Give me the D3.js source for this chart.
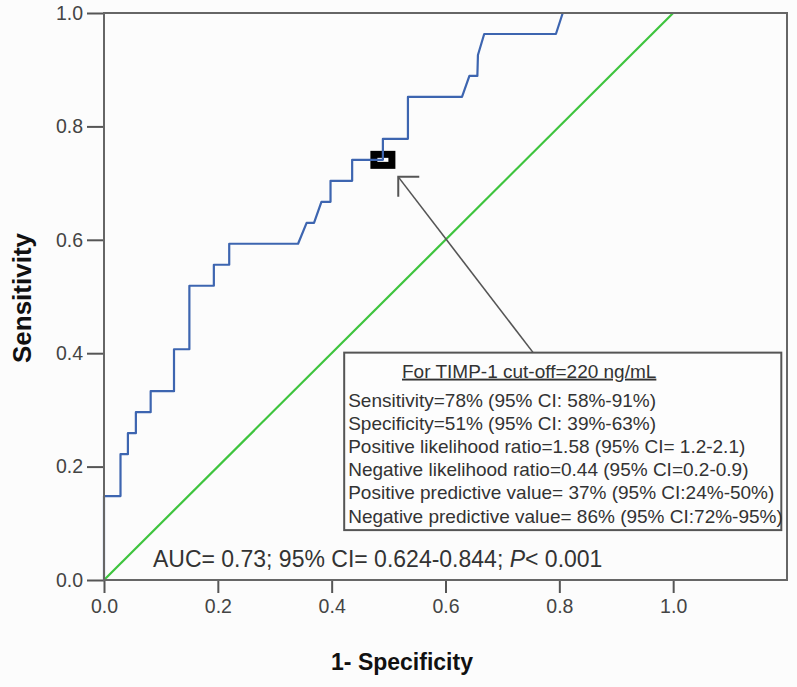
<!DOCTYPE html>
<html><head><meta charset="utf-8">
<script src="https://cdn.jsdelivr.net/npm/d3@7"></script>
<style>body{margin:0;background:#fcfcfc}</style>
</head><body><svg id="c" width="797" height="687"></svg>
<script>
// ROC curve points (1 - specificity, sensitivity)
const fpr = [0,0,0.029,0.029,0.042,0.042,0.056,0.056,0.082,0.082,0.123,0.123,0.150,0.150,0.193,0.193,0.220,0.220,0.341,0.356,0.369,0.382,0.398,0.398,0.436,0.436,0.490,0.490,0.534,0.534,0.629,0.642,0.656,0.657,0.668,0.794,0.806,1.0];
const tpr = [0,0.148,0.148,0.222,0.222,0.259,0.259,0.296,0.296,0.333,0.333,0.407,0.407,0.519,0.519,0.556,0.556,0.593,0.593,0.630,0.630,0.667,0.667,0.704,0.704,0.741,0.741,0.778,0.778,0.852,0.852,0.889,0.889,0.926,0.963,0.963,1.0,1.0];
const refX = [0,1];
const refY = [0,1];
const xTicks = [0,0.2,0.4,0.6,0.8,1.0];
const yTicks = [0,0.2,0.4,0.6,0.8,1.0];
const cutoffPoint = [0.49, 0.741];
const xLabel = "1- Specificity";
const yLabel = "Sensitivity";
const boxTitle = "For TIMP-1 cut-off=220 ng/mL";
const boxLines = [
  "Sensitivity=78% (95% CI: 58%-91%)",
  "Specificity=51% (95% CI: 39%-63%)",
  "Positive likelihood ratio=1.58 (95% CI= 1.2-2.1)",
  "Negative likelihood ratio=0.44 (95% CI=0.2-0.9)",
  "Positive predictive value= 37% (95% CI:24%-50%)",
  "Negative predictive value= 86% (95% CI:72%-95%)"
];

const FONT = "'Liberation Sans', Arial, sans-serif";
const svg = d3.select("#c");
const x = d3.scaleLinear().domain([0,1.2]).range([104,787]);
const y = d3.scaleLinear().domain([0,1]).range([580,13]);

// axes
const yAx = svg.append("g").attr("transform","translate(104,0)")
  .call(d3.axisLeft(y).tickValues(yTicks).tickFormat(d3.format(".1f")).tickSize(17).tickPadding(4));
const xAx = svg.append("g").attr("transform","translate(0,580)")
  .call(d3.axisBottom(x).tickValues(xTicks).tickFormat(d3.format(".1f")).tickSize(13).tickPadding(6));
[yAx,xAx].forEach(g=>{
  g.select(".domain").remove();
  g.selectAll(".tick line").attr("stroke","#555").attr("stroke-width",2);
  g.selectAll(".tick text").attr("fill","#444").style("font-family",FONT).style("font-size","19.5px");
});

// reference line
svg.append("path")
  .attr("d", d3.line().x(d=>x(refX[d])).y(d=>y(refY[d]))(d3.range(refX.length)))
  .attr("fill","none").attr("stroke","#3ec43e").attr("stroke-width",2.2);

// cutoff marker
svg.append("rect")
  .attr("x", x(cutoffPoint[0])-9).attr("y", y(cutoffPoint[1])-5.5)
  .attr("width",18).attr("height",11)
  .attr("fill","#fff").attr("stroke","#000").attr("stroke-width",7);

// ROC curve
svg.append("path")
  .attr("d", d3.line().x(d=>x(fpr[d])).y(d=>y(tpr[d]))(d3.range(fpr.length)))
  .attr("fill","none").attr("stroke","#3d65b0").attr("stroke-width",2.2).attr("stroke-linejoin","round");

// frame
svg.append("rect").attr("x",104).attr("y",13).attr("width",683).attr("height",567)
  .attr("fill","none").attr("stroke","#666").attr("stroke-width",2);

// annotation box
const bx0 = x(0.422), bx1 = x(1.19), by0 = y(0.401), by1 = y(0.088);
svg.append("rect").attr("x",bx0).attr("y",by0).attr("width",bx1-bx0).attr("height",by1-by0)
  .attr("fill","#fdfdfd").attr("stroke","#555").attr("stroke-width",2);

// arrow
const tip = [x(0.517), y(0.711)];
const tail = [x(0.754), by0];
svg.append("line").attr("x1",tail[0]).attr("y1",tail[1]).attr("x2",tip[0]).attr("y2",tip[1])
  .attr("stroke","#555").attr("stroke-width",1.6);
svg.append("polyline").attr("points",[[tip[0]+21,tip[1]],tip,[tip[0],tip[1]+20]].map(p=>p.join(",")).join(" "))
  .attr("fill","none").attr("stroke","#555").attr("stroke-width",2);

svg.append("text").attr("x",bx0+185).attr("y",by0+25).attr("text-anchor","middle")
  .attr("fill","#333").style("font-family",FONT).style("font-size","19px")
  .style("text-decoration","underline").text(boxTitle);
svg.selectAll(".bl").data(boxLines).enter().append("text")
  .attr("x",bx0+4).attr("y",(d,i)=>by0+54+i*23.2)
  .attr("fill","#333").style("font-family",FONT).style("font-size","19px").text(d=>d);

// AUC text
const auc = svg.append("text").attr("x",x(0.086)).attr("y",567)
  .attr("fill","#333").style("font-family",FONT).style("font-size","23px");
auc.append("tspan").text("AUC= 0.73; 95% CI= 0.624-0.844; ");
auc.append("tspan").style("font-style","italic").text("P");
auc.append("tspan").text("< 0.001");

// axis titles
svg.append("text").attr("x",402).attr("y",670).attr("text-anchor","middle")
  .attr("fill","#111").style("font-family",FONT).style("font-size","23px").style("font-weight","bold").text(xLabel);
svg.append("text").attr("transform","translate(31,298) rotate(-90)").attr("text-anchor","middle")
  .attr("fill","#111").style("font-family",FONT).style("font-size","26px").style("font-weight","bold").text(yLabel);
</script></body></html>
